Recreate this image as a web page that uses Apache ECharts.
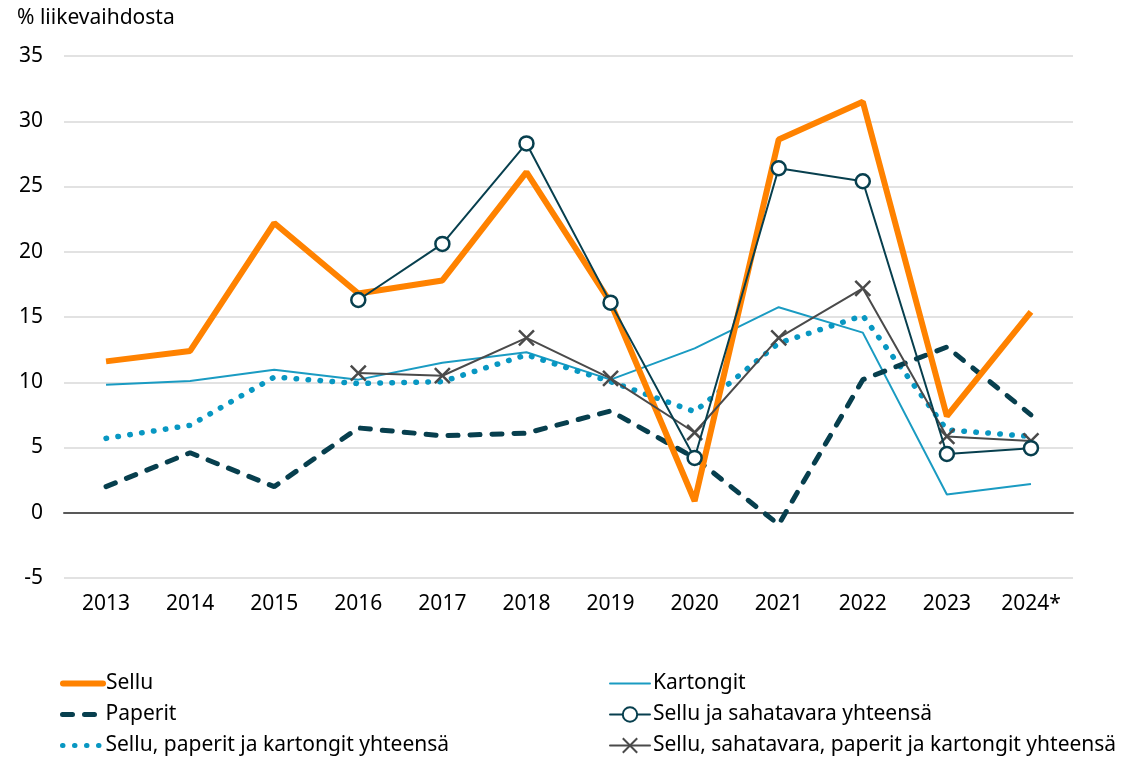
<!DOCTYPE html>
<html>
<head>
<meta charset="utf-8">
<script src="https://cdn.jsdelivr.net/npm/echarts@6/dist/echarts.min.js"></script>
<style>
  html, body { margin: 0; padding: 0; background: #fff; }
  #chart { width: 1136px; height: 758px; }
</style>
</head>
<body>
<div id="chart"></div>
<script>
// vuodet
var years = ['2013', '2014', '2015', '2016', '2017', '2018', '2019', '2020', '2021', '2022', '2023', '2024*'];
var yTicks = [-5, 0, 5, 10, 15, 20, 25, 30, 35];

// % liikevaihdosta
var sellu = [11.6, 12.4, 22.2, 16.8, 17.8, 26.1, 16.1, 0.9, 28.6, 31.5, 7.4, 15.4];
var paperit = [2.0, 4.6, 2.0, 6.5, 5.9, 6.1, 7.8, 4.2, -0.9, 10.2, 12.7, 7.5];
var kartongit = [9.8, 10.1, 10.95, 10.2, 11.5, 12.3, 10.2, 12.6, 15.75, 13.8, 1.4, 2.2];
var selluSaha = [null, null, null, 16.3, 20.6, 28.3, 16.1, 4.2, 26.4, 25.4, 4.5, 4.95];
var selluPapKart = [5.7, 6.7, 10.4, 9.9, 10.05, 12.1, 10.05, 7.75, 13.0, 15.1, 6.35, 5.85];
var kaikki = [null, null, null, 10.7, 10.5, 13.4, 10.3, 6.15, 13.4, 17.2, 5.85, 5.5];

var font = 'Noto Sans';
var myChart = echarts.init(document.getElementById('chart'));

// yksi selite per sarja, kahteen sarakkeeseen
function legendItem(name, left, top, lineWidth, noSymbol) {
  var item = { name: name, lineStyle: { width: lineWidth, cap: 'round' } };
  if (noSymbol) item.itemStyle = { opacity: 0 };
  return {
    left: left,
    top: top,
    padding: 0,
    itemWidth: 40,
    itemHeight: 18,
    textStyle: { fontFamily: font, fontSize: 21, color: '#000', lineHeight: 20, padding: [0, 0, 0, -2] },
    data: [item]
  };
}

var option = {
  backgroundColor: '#fff',
  animation: false,
  textStyle: { fontFamily: font },
  grid: { left: 64, right: 63, top: 56, bottom: 180 },
  legend: [
    legendItem('Sellu', 60, 673, 6, true),
    legendItem('Paperit', 60, 704, 5, true),
    legendItem('Sellu, paperit ja kartongit yhteensä', 60, 735, 5, true),
    legendItem('Kartongit', 609, 673, 2, true),
    legendItem('Sellu ja sahatavara yhteensä', 609, 704, 2, false),
    legendItem('Sellu, sahatavara, paperit ja kartongit yhteensä', 609, 735, 2, false)
  ],
  xAxis: {
    type: 'category',
    data: years,
    boundaryGap: true,
    axisLine: { onZero: true, lineStyle: { color: '#595959', width: 2 } },
    axisTick: { show: false },
    axisLabel: { color: '#000', fontSize: 21, margin: 16, fontFamily: font }
  },
  yAxis: {
    type: 'value',
    min: yTicks[0],
    max: yTicks[yTicks.length - 1],
    interval: 5,
    name: '% liikevaihdosta',
    nameLocation: 'end',
    nameGap: 27,
    nameTextStyle: { color: '#000', fontSize: 21, align: 'left', padding: [0, 0, 0, -47], fontFamily: font },
    axisLine: { show: false },
    axisTick: { show: false },
    axisLabel: { color: '#000', fontSize: 21, margin: 21, fontFamily: font },
    splitLine: { lineStyle: { color: '#d9d9d9', width: 1.5 } }
  },
  series: [
    {
      name: 'Kartongit',
      type: 'line',
      data: kartongit,
      symbol: 'none',
      z: 2,
      lineStyle: { color: '#1a9bc2', width: 2 },
      itemStyle: { color: '#1a9bc2' }
    },
    {
      name: 'Sellu, paperit ja kartongit yhteensä',
      type: 'line',
      data: selluPapKart,
      symbol: 'none',
      z: 3,
      lineStyle: { color: '#0897c2', width: 5.5, type: [0.5, 11.5], cap: 'round' },
      itemStyle: { color: '#0897c2' }
    },
    {
      name: 'Paperit',
      type: 'line',
      data: paperit,
      symbol: 'none',
      z: 4,
      lineStyle: { color: '#073f4e', width: 5, type: [10, 12], cap: 'round' },
      itemStyle: { color: '#073f4e' }
    },
    {
      name: 'Sellu',
      type: 'line',
      data: sellu,
      symbol: 'none',
      z: 5,
      lineStyle: { color: '#ff8200', width: 6 },
      itemStyle: { color: '#ff8200' }
    },
    {
      name: 'Sellu, sahatavara, paperit ja kartongit yhteensä',
      type: 'line',
      data: kaikki,
      symbol: 'path://M0,0 L10,10 M10,0 L0,10',
      symbolSize: 15,
      z: 6,
      lineStyle: { color: '#4a4a4a', width: 2 },
      itemStyle: { color: '#4a4a4a', borderColor: '#4a4a4a', borderWidth: 2.5 }
    },
    {
      name: 'Sellu ja sahatavara yhteensä',
      type: 'line',
      data: selluSaha,
      symbol: 'circle',
      symbolSize: 14,
      z: 7,
      lineStyle: { color: '#073f4e', width: 2 },
      itemStyle: { color: '#fff', borderColor: '#073f4e', borderWidth: 2.5 }
    }
  ]
};

myChart.setOption(option);
</script>
</body>
</html>
